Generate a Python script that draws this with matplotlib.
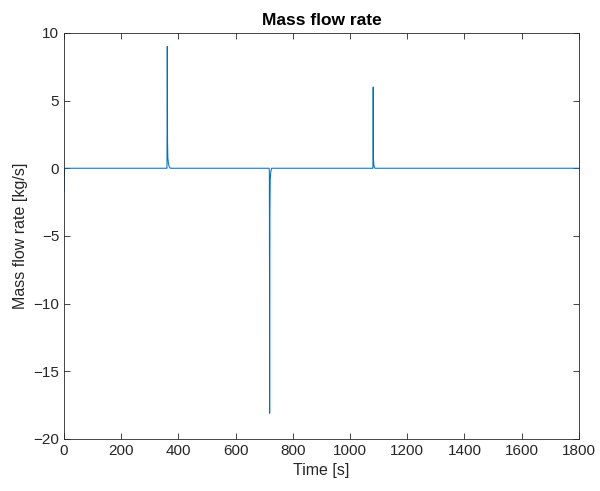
import matplotlib.pyplot as plt

time_s = [0, 1, 2, 3, 359, 360, 361, 362, 363, 365, 368, 372, 717, 718, 719, 720, 721, 723, 726,
          1079, 1080, 1081, 1082, 1084, 1087, 1800]
mass_flow = [-1.7, -0.6, -0.1, 0.0, 0.0, 0.0, 9.0, 2.0, 0.8, 0.35, 0.1, 0.0, 0.0, -0.2, -18.1, -3.0,
             -0.8, -0.25, 0.0, 0.0, 0.0, 6.0, 0.6, 0.15, 0.0, 0.0]

x_ticks = [0, 200, 400, 600, 800, 1000, 1200, 1400, 1600, 1800]
y_ticks = [-20, -15, -10, -5, 0, 5, 10]

plt.rcParams['font.family'] = ['Liberation Sans', 'DejaVu Sans']

fig = plt.figure(figsize=(6.0, 4.91), dpi=100)
ax = fig.add_axes([0.1067, 0.106, 0.858, 0.827])
ax.plot(time_s, mass_flow, color='#0072BD', linewidth=0.75)

ax.set_xlim(0, 1800)
ax.set_ylim(-20, 10)
ax.set_xticks(x_ticks)
ax.set_yticks(y_ticks)
ax.tick_params(direction='in', top=True, right=True, labelsize=11, colors='#262626',
               length=4, width=0.6)
for side in ax.spines.values():
    side.set_color('#262626')
    side.set_linewidth(0.6)

ax.set_xlabel('Time [s]', fontsize=11.5, color='#262626')
ax.set_ylabel('Mass flow rate [kg/s]', fontsize=11.5, color='#262626')
ax.set_title('Mass flow rate', fontsize=12.5, fontweight='bold', color='black')

fig.savefig('out.png', dpi=100)
